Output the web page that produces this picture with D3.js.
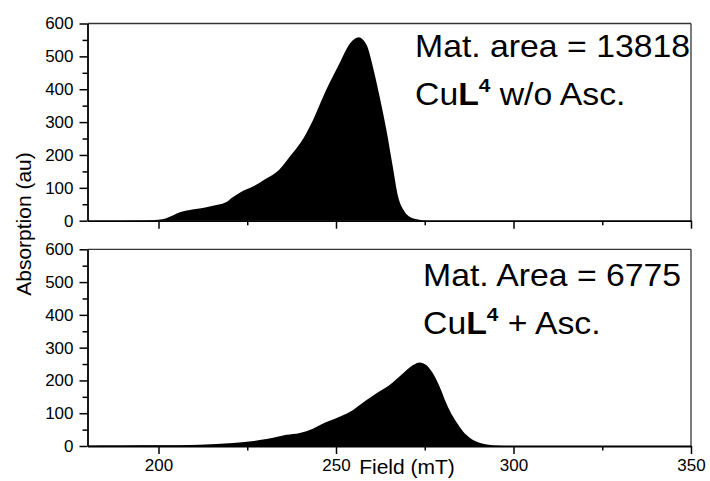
<!DOCTYPE html>
<html>
<head>
<meta charset="utf-8">
<script src="https://cdn.jsdelivr.net/npm/d3@7"></script>
<style>
  body { margin: 0; background: #fff; }
  svg { display: block; font-family: "Liberation Sans", Arial, sans-serif; }
</style>
</head>
<body>
<svg id="chart" width="710" height="481"></svg>
<script>
// field (mT) and absorption
var fieldTop = [180, 190, 195, 200, 202, 204, 206, 208, 212, 215, 219, 221, 223, 227, 230, 234, 237, 240, 243.5, 247, 251, 254, 256.4, 258.6, 260.4, 262.3, 264.2, 266, 267.5, 269, 270.7, 273.5, 276, 290, 350];
var absTop = [0, 0, 0.5, 3, 7, 16, 26, 31, 38, 45, 56, 72, 86, 106, 126, 155, 195, 237, 306, 392, 479, 540, 558, 535, 468, 377, 276, 164, 73, 33, 12, 3, 0, 0, 0];

var fieldBot = [180, 190, 200, 211.7, 221, 228.5, 232.3, 236, 239.8, 243.5, 247.3, 251, 254.8, 258.6, 261.4, 265.1, 268.9, 271.7, 273.6, 275.4, 277.3, 279.2, 281.1, 283, 284.8, 286.7, 288.6, 290.4, 293, 296, 300, 350];
var absBot = [1, 1.5, 2, 4, 9, 18, 25, 34, 40, 53, 73, 89, 110, 140, 161, 186, 222, 247, 255, 247, 222, 181, 130, 89, 59, 34, 18, 10, 4, 1, 0, 0];

var xTicks = [200, 250, 300, 350];
var yTicks = [0, 100, 200, 300, 400, 500, 600];

var panels = [
  { field: fieldTop, abs: absTop, top: 23.5, bottom: 220.7, line1: "Mat. area = 13818", line2: " w/o Asc.", tx: 415, ty: 57, labels: false },
  { field: fieldBot, abs: absBot, top: 249.3, bottom: 446, line1: "Mat. Area = 6775", line2: " + Asc.", tx: 423, ty: 286, labels: true }
];

var svg = d3.select("#chart");
var left = 87.5, right = 691;

var x = d3.scaleLinear().domain([180, 350]).range([left, right]);

panels.forEach(function (p) {
  var y = d3.scaleLinear().domain([0, 600]).range([p.bottom, p.top]);
  var g = svg.append("g");

  var pts = p.field.map(function (f, i) { return [f, p.abs[i]]; });
  var area = d3.area()
    .x(function (d) { return x(d[0]); })
    .y0(y(0))
    .y1(function (d) { return y(d[1]); })
    .curve(d3.curveMonotoneX);
  g.append("path").attr("d", area(pts)).attr("fill", "#000");

  // frame: top and right
  g.append("line").attr("x1", left).attr("x2", right).attr("y1", p.top).attr("y2", p.top)
    .attr("stroke", "#333").attr("stroke-width", 1.3);
  g.append("line").attr("x1", right).attr("x2", right).attr("y1", p.top).attr("y2", p.bottom)
    .attr("stroke", "#333").attr("stroke-width", 1.3);

  // minor ticks
  var xMinor = g.append("g").attr("transform", "translate(0," + p.bottom + ")")
    .call(d3.axisBottom(x).tickValues([225, 275, 325]).tickSize(4.5).tickFormat(""));
  xMinor.select(".domain").remove();
  var yMinor = g.append("g").attr("transform", "translate(" + left + ",0)")
    .call(d3.axisLeft(y).tickValues([50, 150, 250, 350, 450, 550]).tickSize(5).tickFormat(""));
  yMinor.select(".domain").remove();

  var xAxis = g.append("g").attr("transform", "translate(0," + p.bottom + ")")
    .call(d3.axisBottom(x).tickValues(xTicks).tickSize(8).tickSizeOuter(0).tickPadding(5)
      .tickFormat(p.labels ? d3.format("d") : ""));
  var yAxis = g.append("g").attr("transform", "translate(" + left + ",0)")
    .call(d3.axisLeft(y).tickValues(yTicks).tickSize(8).tickSizeOuter(0).tickPadding(6));

  [xAxis, yAxis, xMinor, yMinor].forEach(function (a) {
    a.selectAll("line").attr("stroke", "#000").attr("stroke-width", 1.5);
    a.selectAll(".domain").attr("stroke", "#000").attr("stroke-width", 1.8);
    a.selectAll("text").attr("font-size", 17).attr("fill", "#000")
      .attr("font-family", "Liberation Sans, Arial, sans-serif");
  });

  // annotation, slightly stretched sideways like the original
  var t = g.append("g").attr("font-size", 31).attr("fill", "#000")
    .attr("transform", "translate(" + p.tx + "," + p.ty + ") scale(1.09,1)");
  t.append("text").attr("x", 0).attr("y", 0).text(p.line1);
  var t2 = t.append("text").attr("x", 0).attr("y", 48);
  t2.append("tspan").text("Cu");
  t2.append("tspan").attr("font-weight", "bold").text("L");
  t2.append("tspan").attr("font-weight", "bold").attr("font-size", 19).attr("dy", -13).text("4");
  t2.append("tspan").attr("dy", 13).text(p.line2);
});

svg.append("text")
  .attr("transform", "translate(31,224) rotate(-90)")
  .attr("text-anchor", "middle")
  .attr("font-size", 21)
  .text("Absorption (au)");

svg.append("text")
  .attr("x", 407).attr("y", 474)
  .attr("text-anchor", "middle")
  .attr("font-size", 21)
  .text("Field (mT)");
</script>
</body>
</html>
